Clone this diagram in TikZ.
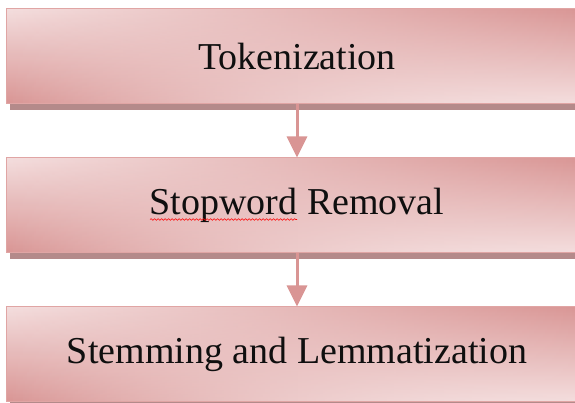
\documentclass[tikz,border=0pt]{standalone}
\usepackage{fontspec}
\setmainfont{Liberation Serif}
\usetikzlibrary{positioning,shadows,arrows.meta,calc,fadings,decorations.pathmorphing}
\definecolor{stagedark}{RGB}{217,149,148}
\definecolor{stagelight}{RGB}{244,222,222}
\definecolor{stageline}{RGB}{224,165,164}
\definecolor{stageshadow}{RGB}{180,138,138}
\definecolor{stagetext}{RGB}{15,15,15}
\tikzfading[name=stagefade, left color=transparent!100, right color=transparent!0]
\tikzset{
  stage/.style={
    rectangle,
    draw=stageline,
    line width=1pt,
    fill=stagelight,
    drop shadow={shadow xshift=4pt, shadow yshift=-6pt, fill=stageshadow, opacity=1},
    path picture={
      \fill[top color=stagelight, middle color=stagelight, bottom color=stagedark]
        (path picture bounding box.south west) rectangle (path picture bounding box.north east);
      \fill[top color=stagedark, middle color=stagelight, bottom color=stagelight, path fading=stagefade]
        (path picture bounding box.south west) rectangle (path picture bounding box.north east);
    },
    minimum width=582pt,
    minimum height=95pt,
    inner sep=0pt,
    text=stagetext,
    font=\fontsize{38}{45}\selectfont,
  },
  flow/.style={
    draw=stagedark,
    line width=3pt,
    -{Triangle[width=20pt,length=21pt]},
  },
  spellcheck/.style={
    draw=red,
    line width=0.6pt,
    decorate,
    decoration={snake, amplitude=0.8pt, segment length=3.5pt},
  }
}
\begin{document}
\begin{tikzpicture}[x=1pt,y=1pt]
\useasboundingbox (0,0) rectangle (575,403);
\node[stage] (tok) at (297,346.5) {Tokenization};
\node[stage, below=53pt of tok] (stop) {Stopword Removal};
\node[stage, below=53pt of stop] (stem) {Stemming and Lemmatization};
\draw[flow] (tok) -- (stop);
\draw[flow] (stop) -- (stem);
\draw[spellcheck] ($(stop.center)+(-147,-14)$) -- ($(stop.center)+(0,-14)$);
\end{tikzpicture}
\end{document}
